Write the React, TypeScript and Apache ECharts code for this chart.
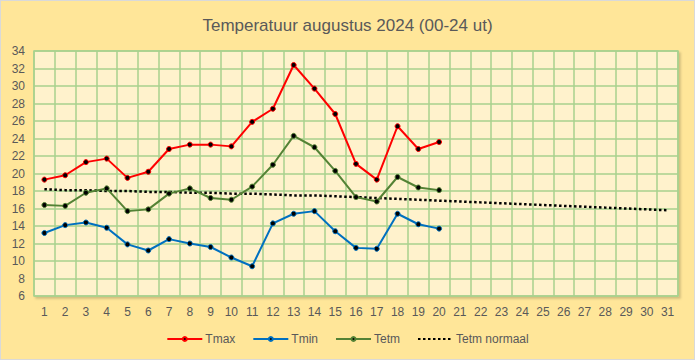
import React, { useEffect, useRef } from "react";
import * as echarts from "echarts";

const days = Array.from({ length: 31 }, (_, i) => String(i + 1));
const tmax = [19.3, 19.8, 21.3, 21.7, 19.5, 20.2, 22.8, 23.3, 23.3, 23.1, 25.9, 27.4, 32.4, 29.7, 26.8, 21.1, 19.3, 25.4, 22.8, 23.6];
const tmin = [13.2, 14.1, 14.4, 13.8, 11.9, 11.2, 12.5, 12.0, 11.6, 10.4, 9.4, 14.3, 15.4, 15.7, 13.4, 11.5, 11.4, 15.4, 14.2, 13.7];
const tetm = [16.4, 16.3, 17.8, 18.3, 15.7, 15.9, 17.7, 18.3, 17.2, 17.0, 18.5, 21.0, 24.3, 23.0, 20.3, 17.3, 16.8, 19.6, 18.4, 18.1];
const tetmNormaal = [18.2, 18.1, 18.1, 18.0, 18.0, 17.9, 17.9, 17.8, 17.8, 17.7, 17.7, 17.6, 17.5, 17.5, 17.4, 17.3, 17.2, 17.1, 17.0, 16.9, 16.8, 16.7, 16.6, 16.5, 16.4, 16.3, 16.2, 16.1, 16.0, 15.9, 15.8];

const FONT = "Liberation Sans, Arial, sans-serif";
const GRID_GREEN = "#A9D18E";

export default function App() {
  const ref = useRef<HTMLDivElement>(null);
  useEffect(() => {
    document.body.style.margin = "0";
    const chart = echarts.init(ref.current!, null, { renderer: "svg" });
    const lineSeries = (name: string, data: number[], color: string) => ({
      name,
      type: "line",
      data,
      symbol: "circle",
      symbolSize: 5,
      showSymbol: true,
      lineStyle: { color, width: 2 },
      itemStyle: { color: "#000", borderColor: color, borderWidth: 1 },
      z: 3,
    });
    chart.setOption({
      animation: false,
      backgroundColor: "#FFE699",
      title: {
        text: "Temperatuur augustus 2024 (00-24 ut)",
        left: "center",
        top: 11,
        textStyle: { fontFamily: FONT, fontSize: 17, fontWeight: "normal", color: "#595959" },
      },
      grid: {
        left: 33,
        right: 16,
        top: 50,
        bottom: 63,
        show: true,
        backgroundColor: "#FFF2CC",
        borderColor: GRID_GREEN,
        borderWidth: 1.5,
        shadowColor: "rgba(0,0,0,0.18)",
        shadowBlur: 2,
        shadowOffsetX: 2,
        shadowOffsetY: 2,
      },
      legend: {
        bottom: 9,
        left: "center",
        itemWidth: 35,
        itemHeight: 5,
        itemGap: 17,
        textStyle: { fontFamily: FONT, fontSize: 12, color: "#595959", padding: [0, 0, 0, -2] },
        data: [
          "Tmax",
          "Tmin",
          "Tetm",
          { name: "Tetm normaal", itemStyle: { opacity: 0 } },
        ],
      },
      xAxis: {
        type: "category",
        data: days,
        boundaryGap: true,
        axisLine: { show: false },
        axisTick: { show: false },
        axisLabel: { interval: 0, margin: 10, fontFamily: FONT, fontSize: 12, color: "#595959" },
        splitLine: { show: true, interval: 0, lineStyle: { color: GRID_GREEN, width: 1.5 } },
      },
      yAxis: {
        type: "value",
        min: 6,
        max: 34,
        interval: 2,
        axisLine: { show: false },
        axisTick: { show: false },
        axisLabel: { margin: 9, fontFamily: FONT, fontSize: 12, color: "#595959" },
        splitLine: { show: true, lineStyle: { color: GRID_GREEN, width: 1.5 } },
      },
      series: [
        lineSeries("Tmax", tmax, "#FF0000"),
        lineSeries("Tmin", tmin, "#0070C0"),
        lineSeries("Tetm", tetm, "#548235"),
        {
          name: "Tetm normaal",
          type: "line",
          data: tetmNormaal,
          symbol: "none",
          lineStyle: { color: "#000", width: 2.5, type: [2.5, 2.5] },
          itemStyle: { color: "#000" },
          z: 2,
        },
      ],
    });
    return () => chart.dispose();
  }, []);
  return (
    <div
      ref={ref}
      style={{ width: 695, height: 360, boxSizing: "border-box", border: "1px solid #D9D9D9" }}
    />
  );
}
